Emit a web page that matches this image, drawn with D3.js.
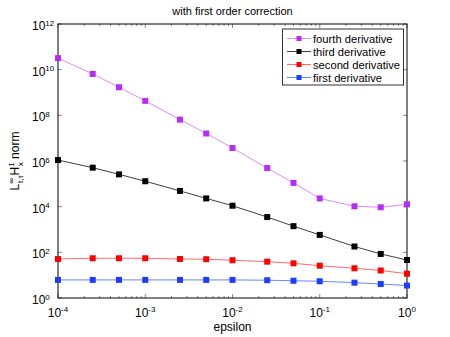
<!DOCTYPE html>
<html><head><meta charset="utf-8">
<script src="https://cdn.jsdelivr.net/npm/d3@7"></script>
<style>body{margin:0;background:#fff}svg{display:block;font-family:"Liberation Sans",Arial,sans-serif}</style>
</head><body><svg id="c" width="450" height="337"></svg>
<script>
const epsilon = [1e-4, 2.5e-4, 5e-4, 1e-3, 2.5e-3, 5e-3, 1e-2, 2.5e-2, 5e-2, 1e-1, 2.5e-1, 5e-1, 1];
const fourth = [3.2e10, 6.5e9, 1.7e9, 4.3e8, 6.5e7, 1.6e7, 3.7e6, 4.9e5, 1.1e5, 2.3e4, 1.04e4, 9.4e3, 1.27e4];
const third = [1.1e6, 5.1e5, 2.6e5, 1.3e5, 4.9e4, 2.3e4, 1.1e4, 3.5e3, 1.4e3, 5.8e2, 1.8e2, 85, 46];
const second = [51, 55, 55, 55, 51, 50, 45, 39, 33, 26, 20, 16, 11.6];
const first = [6.2, 6.2, 6.2, 6.2, 6.2, 6.2, 6.2, 6.0, 5.7, 5.4, 4.7, 4.1, 3.5];
const seriesNames = ["fourth derivative", "third derivative", "second derivative", "first derivative"];
const xTicks = [1e-4, 1e-3, 1e-2, 1e-1, 1];
const yTicks = [1, 1e2, 1e4, 1e6, 1e8, 1e10, 1e12];
const title = "with first order correction";
const xLabel = "epsilon";

const series = [
  {name: seriesNames[0], values: fourth, mark: "#b62cf8", line: "#d98cff"},
  {name: seriesNames[1], values: third, mark: "#000000", line: "#404040"},
  {name: seriesNames[2], values: second, mark: "#ff0000", line: "#ff6a6a"},
  {name: seriesNames[3], values: first, mark: "#1c3cff", line: "#6a86ff"}
];

const L = 58, R = 407, T = 24, B = 298;
const svg = d3.select("#c");
const x = d3.scaleLog().domain([1e-4, 1]).range([L, R]);
const y = d3.scaleLog().domain([1, 1e12]).range([B, T]);

function sup(sel, v) {
  const e = Math.round(Math.log10(v));
  sel.text("");
  sel.append("tspan").text("10");
  sel.append("tspan").attr("dy", "-0.55em").attr("font-size", "8px").text(e);
}

const xMinor = [];
for (let d = -4; d < 0; d++) for (let m = 2; m <= 9; m++) xMinor.push(m * Math.pow(10, d));
const g = svg.append("g");
xMinor.forEach(v => {
  g.append("line").attr("x1", x(v)).attr("x2", x(v)).attr("y1", B).attr("y2", B - 2).attr("stroke", "#555").attr("stroke-width", 0.7);
  g.append("line").attr("x1", x(v)).attr("x2", x(v)).attr("y1", T).attr("y2", T + 2).attr("stroke", "#555").attr("stroke-width", 0.7);
});
xTicks.forEach(v => {
  g.append("line").attr("x1", x(v)).attr("x2", x(v)).attr("y1", B).attr("y2", B - 4).attr("stroke", "#555").attr("stroke-width", 0.7);
  g.append("line").attr("x1", x(v)).attr("x2", x(v)).attr("y1", T).attr("y2", T + 4).attr("stroke", "#555").attr("stroke-width", 0.7);
  const t = g.append("text").attr("x", x(v)).attr("y", 316.5).attr("text-anchor", "middle").attr("font-size", "12px").attr("fill", "#000");
  sup(t, v);
});
yTicks.forEach(v => {
  g.append("line").attr("x1", L).attr("x2", L + 4).attr("y1", y(v)).attr("y2", y(v)).attr("stroke", "#555").attr("stroke-width", 0.7);
  g.append("line").attr("x1", R).attr("x2", R - 4).attr("y1", y(v)).attr("y2", y(v)).attr("stroke", "#555").attr("stroke-width", 0.7);
  const t = g.append("text").attr("x", 32).attr("y", y(v) + 6).attr("text-anchor", "start").attr("font-size", "12px").attr("fill", "#000");
  sup(t, v);
});

svg.append("rect").attr("x", L).attr("y", T).attr("width", R - L).attr("height", B - T)
  .attr("fill", "none").attr("stroke", "#000").attr("stroke-width", 1);

const line = d3.line().x((d, i) => x(epsilon[i])).y(d => y(d));
series.slice().reverse().forEach(s => {
  svg.append("path").attr("d", line(s.values)).attr("fill", "none").attr("stroke", s.line).attr("stroke-width", 1);
  svg.selectAll(null).data(s.values).enter().append("rect")
    .attr("x", (d, i) => x(epsilon[i]) - 3).attr("y", d => y(d) - 3)
    .attr("width", 6).attr("height", 6).attr("fill", s.mark);
});

const lg = svg.append("g");
lg.append("rect").attr("x", 282.5).attr("y", 29).attr("width", 121).attr("height", 56)
  .attr("fill", "#fff").attr("stroke", "#333").attr("stroke-width", 1);
series.forEach((s, i) => {
  const yy = 38.5 + i * 13;
  lg.append("line").attr("x1", 287).attr("x2", 311).attr("y1", yy).attr("y2", yy).attr("stroke", s.line).attr("stroke-width", 1);
  lg.append("rect").attr("x", 296.5).attr("y", yy - 2.5).attr("width", 5).attr("height", 5).attr("fill", s.mark);
  lg.append("text").attr("x", 313).attr("y", yy + 4).attr("font-size", "11.2px").attr("fill", "#000").text(s.name);
});

svg.append("text").attr("x", (L + R) / 2).attr("y", 15).attr("text-anchor", "middle").attr("font-size", "11px").text(title);
svg.append("text").attr("x", (L + R) / 2).attr("y", 331).attr("text-anchor", "middle").attr("font-size", "12px").text(xLabel);
const yl = svg.append("text").attr("transform", "translate(19,161) rotate(-90)").attr("text-anchor", "middle").attr("font-size", "12px");
yl.append("tspan").text("L");
yl.append("tspan").attr("dy", "-5").attr("font-size", "8px").text("∞");
yl.append("tspan").attr("dy", "9").attr("dx", "-5").attr("font-size", "8px").text("t,τ");
yl.append("tspan").attr("dy", "-4").text("H");
yl.append("tspan").attr("dy", "-5").attr("font-size", "8px").text("1");
yl.append("tspan").attr("dy", "9").attr("dx", "-4").attr("font-size", "8px").text("x");
yl.append("tspan").attr("dy", "-4").text(" norm");
</script></body></html>
